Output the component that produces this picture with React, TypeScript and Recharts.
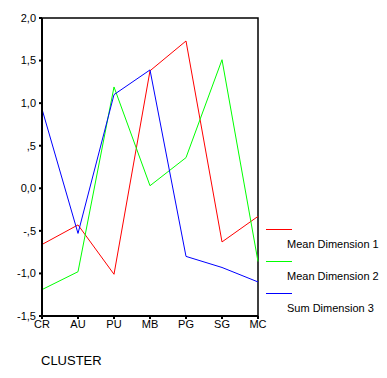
import {LineChart, Line, XAxis, YAxis, ReferenceArea} from 'recharts';

const clusters = ['CR', 'AU', 'PU', 'MB', 'PG', 'SG', 'MC'];
const meanDimension1 = [-0.66, -0.43, -1.01, 1.38, 1.73, -0.63, -0.33];
const meanDimension2 = [-1.19, -0.98, 1.19, 0.03, 0.36, 1.51, -0.86];
const sumDimension3 = [0.93, -0.53, 1.1, 1.39, -0.8, -0.93, -1.1];
const yTicks = [-1.5, -1, -0.5, 0, 0.5, 1, 1.5, 2];

const series = [
	{key: 'd1', name: 'Mean Dimension 1', color: '#ff0000'},
	{key: 'd2', name: 'Mean Dimension 2', color: '#00ff00'},
	{key: 'd3', name: 'Sum Dimension 3', color: '#0000ff'},
];

const data = clusters.map((c, i) => ({
	cluster: c,
	d1: meanDimension1[i],
	d2: meanDimension2[i],
	d3: sumDimension3[i],
}));

// SPSS style: "1,5", ",5", "-,5"
const fmtY = (v: number) => {
	let s = v.toFixed(1).replace('.', ',');
	if (s.startsWith('0,') && v !== 0) s = s.slice(1);
	if (s.startsWith('-0,')) s = '-' + s.slice(2);
	return s;
};

const font = 'Arial, "Liberation Sans", sans-serif';

export default function App() {
	return (
		<div
			style={{
				position: 'absolute',
				left: 0,
				top: 0,
				width: 387,
				height: 378,
				background: '#fff',
				fontFamily: font,
			}}
		>
			<LineChart
				width={387}
				height={378}
				data={data}
				margin={{top: 18, right: 129, bottom: 32, left: 0}}
			>
				<ReferenceArea
					x1="CR"
					x2="MC"
					y1={-1.5}
					y2={2}
					fill="none"
					stroke="#000"
					strokeWidth={1.5}
					ifOverflow="visible"
				/>
				<XAxis
					dataKey="cluster"
					scale="point"
					padding={{left: 0, right: 0}}
					interval={0}
					height={30}
					stroke="#000"
					strokeWidth={2}
					tickSize={3}
					tickMargin={1}
					tick={{fill: '#000', fontSize: 11, fontFamily: font}}
				/>
				<YAxis
					type="number"
					domain={[-1.5, 2]}
					ticks={yTicks}
					interval={0}
					width={42}
					allowDataOverflow
					stroke="#000"
					strokeWidth={2}
					tickSize={3}
					tickMargin={3}
					tickFormatter={fmtY}
					tick={{fill: '#000', fontSize: 11, fontFamily: font}}
				/>
				{series.map(s => (
					<Line
						key={s.key}
						dataKey={s.key}
						name={s.name}
						stroke={s.color}
						strokeWidth={1}
						dot={false}
						isAnimationActive={false}
					/>
				))}
			</LineChart>
			<div style={{position: 'absolute', left: 266, top: 222, width: 120}}>
				{series.map(s => (
					<div key={s.key} style={{height: 32, position: 'relative'}}>
						<div
							style={{
								position: 'absolute',
								left: 0,
								top: 7,
								width: 26,
								height: 1,
								background: s.color,
							}}
						/>
						<div
							style={{
								position: 'absolute',
								left: 21,
								top: 16,
								fontSize: 11,
								whiteSpace: 'nowrap',
								color: '#000',
							}}
						>
							{s.name}
						</div>
					</div>
				))}
			</div>
			<div
				style={{
					position: 'absolute',
					left: 41,
					top: 353,
					fontSize: 13,
					color: '#000',
				}}
			>
				CLUSTER
			</div>
		</div>
	);
}
